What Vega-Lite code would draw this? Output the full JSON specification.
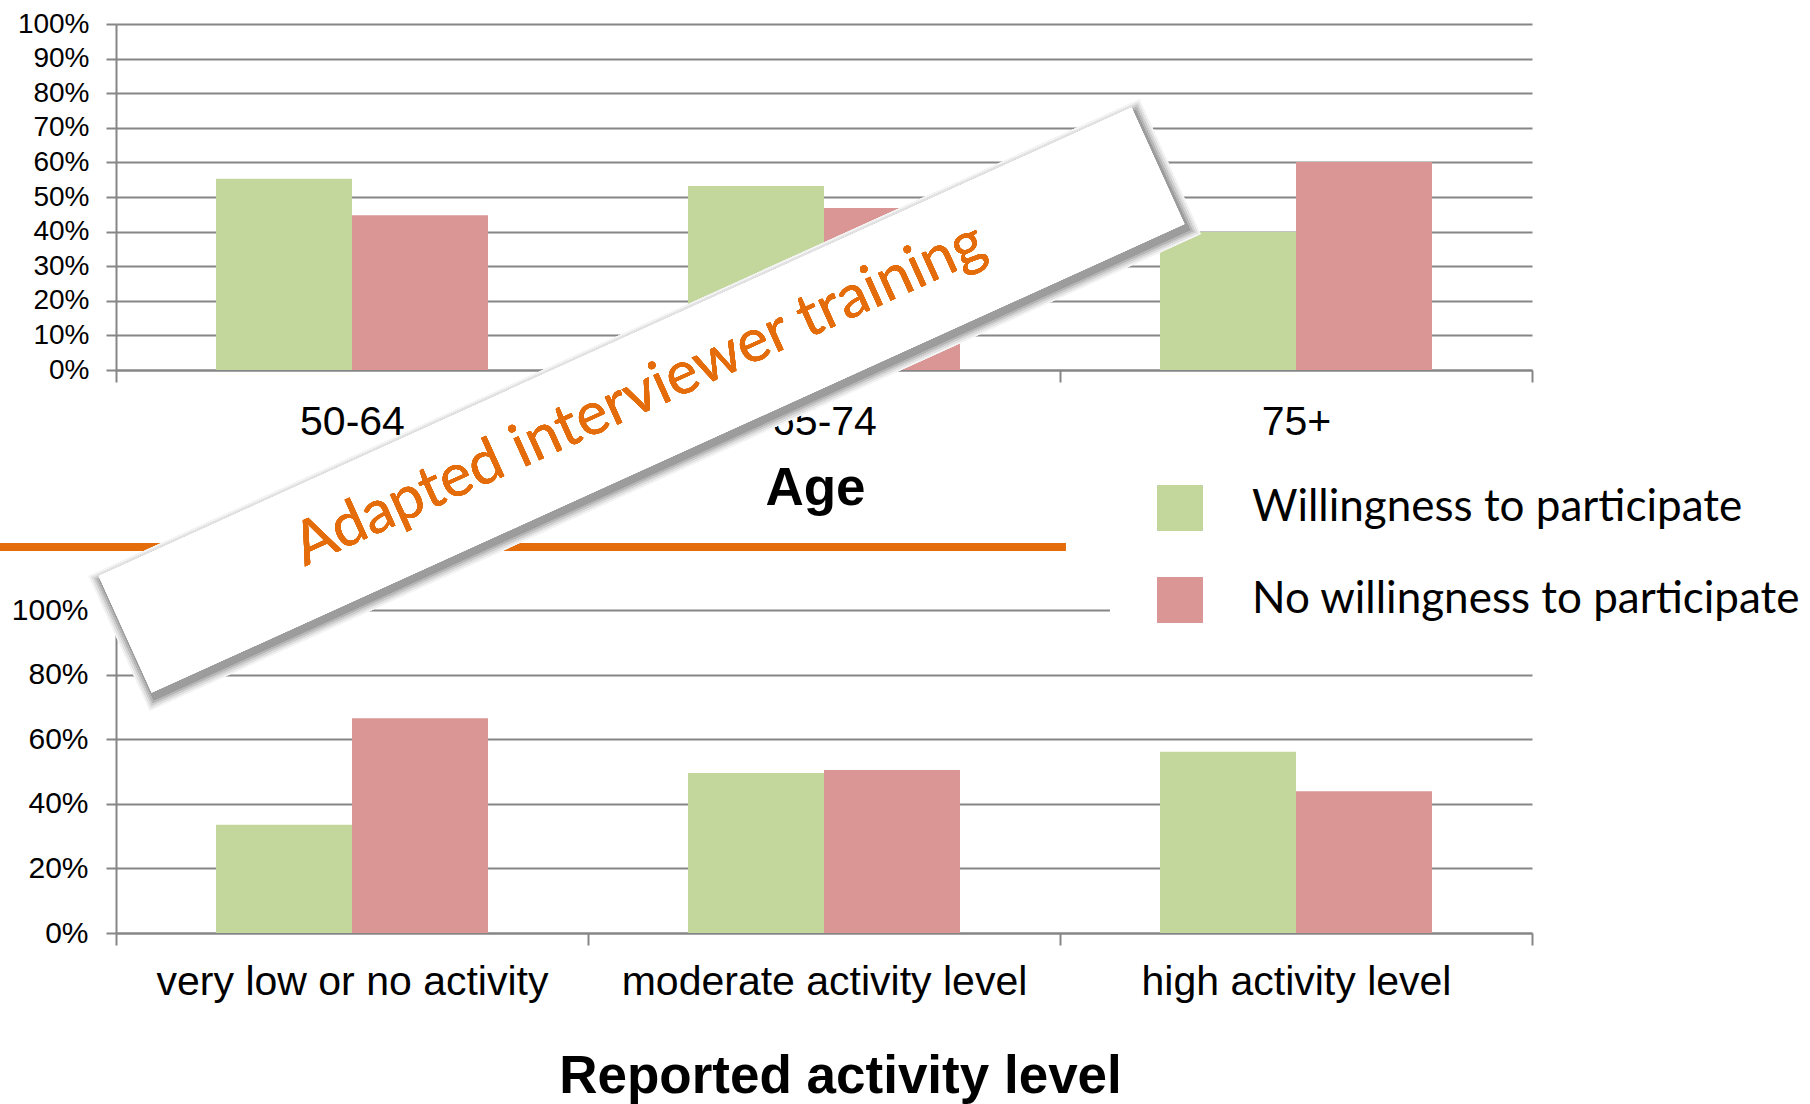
{
  "$schema": "https://vega.github.io/schema/vega-lite/v6.json",
  "autosize": {"type": "none"},
  "padding": {"left": 116, "top": 24, "right": 1694, "bottom": 1080},
  "background": "white",
  "config": {
    "view": {"stroke": null},
    "font": "Liberation Sans",
    "axis": {"labelFont": "Liberation Sans", "titleFont": "Liberation Sans", "labelColor": "black", "titleColor": "black", "labelOverlap": false}
  },
  "bounds": "flush",
  "spacing": 240,
  "datasets": {
    "age": [
      {"age": "50-64", "series": "Willingness to participate", "value": 0.553},
      {"age": "50-64", "series": "No willingness to participate", "value": 0.447},
      {"age": "65-74", "series": "Willingness to participate", "value": 0.532},
      {"age": "65-74", "series": "No willingness to participate", "value": 0.468},
      {"age": "75+", "series": "Willingness to participate", "value": 0.399},
      {"age": "75+", "series": "No willingness to participate", "value": 0.601}
    ],
    "activity": [
      {"activity": "very low or no activity", "series": "Willingness to participate", "value": 0.335},
      {"activity": "very low or no activity", "series": "No willingness to participate", "value": 0.665},
      {"activity": "moderate activity level", "series": "Willingness to participate", "value": 0.495},
      {"activity": "moderate activity level", "series": "No willingness to participate", "value": 0.505},
      {"activity": "high activity level", "series": "Willingness to participate", "value": 0.561},
      {"activity": "high activity level", "series": "No willingness to participate", "value": 0.439}
    ]
  },
  "resolve": {"scale": {"color": "shared"}, "legend": {"color": "shared"}},
  "vconcat": [
    {
      "width": 1416,
      "height": 346,
      "data": {"name": "age"},
      "mark": {"type": "bar"},
      "encoding": {
        "x": {
          "field": "age", "type": "nominal", "sort": ["50-64", "65-74", "75+"],
          "scale": {"paddingInner": 0, "paddingOuter": 0},
          "axis": {
            "title": "Age", "titleFontSize": 53, "titleFontWeight": "bold", "titlePadding": 20, "titleX": 699,
            "labelFontSize": 41, "labelAngle": 0, "labelPadding": 20, "labelLimit": 0,
            "tickSize": 12, "tickBand": "extent", "tickColor": "#868686", "tickWidth": 2,
            "domainColor": "#868686", "domainWidth": 2, "grid": false
          }
        },
        "xOffset": {
          "field": "series", "type": "nominal",
          "sort": ["Willingness to participate", "No willingness to participate"],
          "scale": {"paddingInner": 0, "paddingOuter": 0.735}
        },
        "y": {
          "field": "value", "type": "quantitative",
          "scale": {"domain": [0, 1]},
          "axis": {
            "title": null, "format": ".0%", "values": [0, 0.1, 0.2, 0.3, 0.4, 0.5, 0.6, 0.7, 0.8, 0.9, 1],
            "labelFontSize": 28, "labelPadding": 17, "tickSize": 10,
            "tickColor": "#868686", "tickWidth": 2, "domainColor": "#868686", "domainWidth": 2,
            "grid": true, "gridColor": "#868686", "gridWidth": 2
          }
        },
        "color": {
          "field": "series", "type": "nominal",
          "scale": {"domain": ["Willingness to participate", "No willingness to participate"], "range": ["#C3D69B", "#D99694"]},
          "legend": {
            "orient": "none", "legendX": 1041, "legendY": 461, "title": null,
            "symbolType": "square", "symbolSize": 2116, "symbolStrokeWidth": 0,
            "labelFont": "Lato", "labelFontSize": 44, "labelColor": "black", "labelOffset": 49,
            "rowPadding": 46, "padding": 0, "labelLimit": 1000
          }
        }
      }
    },
    {
      "width": 1416,
      "height": 323,
      "data": {"name": "activity"},
      "layer": [
        {
          "mark": {"type": "bar"},
          "encoding": {
            "x": {
              "field": "activity", "type": "nominal",
              "sort": ["very low or no activity", "moderate activity level", "high activity level"],
              "scale": {"paddingInner": 0, "paddingOuter": 0},
              "axis": {
                "title": "Reported activity level", "titleFontSize": 53, "titleFontWeight": "bold", "titlePadding": 48, "titleX": 724,
                "labelFontSize": 41, "labelAngle": 0, "labelPadding": 17, "labelLimit": 0,
                "tickSize": 12, "tickBand": "extent", "tickColor": "#868686", "tickWidth": 2,
                "domainColor": "#868686", "domainWidth": 2, "grid": false
              }
            },
            "xOffset": {
              "field": "series", "type": "nominal",
              "sort": ["Willingness to participate", "No willingness to participate"],
              "scale": {"paddingInner": 0, "paddingOuter": 0.735}
            },
            "y": {
              "field": "value", "type": "quantitative",
              "scale": {"domain": [0, 1]},
              "axis": {
                "title": null, "format": ".0%", "values": [0, 0.1, 0.2, 0.3, 0.4, 0.5, 0.6, 0.7, 0.8, 0.9, 1],
                "labelFontSize": 30, "labelPadding": 18, "tickSize": 10,
                "tickColor": "#868686", "tickWidth": 2, "domainColor": "#868686", "domainWidth": 2,
                "grid": true, "gridColor": "#868686", "gridWidth": 2
              }
            },
            "color": {
              "field": "series", "type": "nominal",
              "scale": {"domain": ["Willingness to participate", "No willingness to participate"], "range": ["#C3D69B", "#D99694"]},
              "legend": {
                "orient": "none", "legendX": 1041, "legendY": 461, "title": null,
                "symbolType": "square", "symbolSize": 2116, "symbolStrokeWidth": 0,
                "labelFont": "Lato", "labelFontSize": 44, "labelColor": "black", "labelOffset": 49,
                "rowPadding": 46, "padding": 0, "labelLimit": 1000
              }
            }
          }
        },
        {
          "mark": {"type": "rect", "color": "white"},
          "encoding": {
            "x": {"datum": "high activity level", "type": "nominal", "bandPosition": 0.106},
            "x2": {"datum": "high activity level", "bandPosition": 1.05},
            "y": {"datum": 1.05, "type": "quantitative"},
            "y2": {"datum": 0.86}
          }
        },
        {
          "mark": {"type": "rule", "color": "#E46C0A", "strokeWidth": 8, "strokeCap": "butt"},
          "encoding": {
            "x": {"datum": "very low or no activity", "type": "nominal", "bandPosition": -0.2458},
            "x2": {"datum": "high activity level", "bandPosition": 0.0114},
            "y": {"datum": 1.195, "type": "quantitative"}
          }
        },
        {
          "mark": {"type": "point", "shape": "M-1.0176,-0.1305L1.0176,-0.1305L1.0176,0.1305L-1.0176,0.1305Z", "filled": true, "fill": "#f3f3f3", "stroke": null, "strokeWidth": 0, "opacity": 1, "size": 1285956, "angle": 335.6},
          "encoding": {
            "x": {"datum": "very low or no activity", "type": "nominal", "bandPosition": 1.12},
            "y": {"datum": 1.6345, "type": "quantitative"}
          }
        },
        {
          "mark": {"type": "point", "shape": "M-1.0141,-0.127L1.0141,-0.127L1.0141,0.127L-1.0141,0.127Z", "filled": true, "fill": "#e2e2e2", "stroke": null, "strokeWidth": 0, "opacity": 1, "size": 1285956, "angle": 335.6},
          "encoding": {
            "x": {"datum": "very low or no activity", "type": "nominal", "bandPosition": 1.12},
            "y": {"datum": 1.6345, "type": "quantitative"}
          }
        },
        {
          "mark": {"type": "point", "shape": "M-1.0106,-0.1235L1.0106,-0.1235L1.0106,0.1235L-1.0106,0.1235Z", "filled": true, "fill": "#cdcdcd", "stroke": null, "strokeWidth": 0, "opacity": 1, "size": 1285956, "angle": 335.6},
          "encoding": {
            "x": {"datum": "very low or no activity", "type": "nominal", "bandPosition": 1.12},
            "y": {"datum": 1.6345, "type": "quantitative"}
          }
        },
        {
          "mark": {"type": "point", "shape": "M-1.0071,-0.12L1.0071,-0.12L1.0071,0.12L-1.0071,0.12Z", "filled": true, "fill": "#b5b5b5", "stroke": null, "strokeWidth": 0, "opacity": 1, "size": 1285956, "angle": 335.6},
          "encoding": {
            "x": {"datum": "very low or no activity", "type": "nominal", "bandPosition": 1.12},
            "y": {"datum": 1.6345, "type": "quantitative"}
          }
        },
        {
          "mark": {"type": "point", "shape": "M-1.0035,-0.1164L1.0035,-0.1164L1.0035,0.1164L-1.0035,0.1164Z", "filled": true, "fill": "#9c9c9c", "stroke": null, "strokeWidth": 0, "opacity": 1, "size": 1285956, "angle": 335.6},
          "encoding": {
            "x": {"datum": "very low or no activity", "type": "nominal", "bandPosition": 1.12},
            "y": {"datum": 1.6345, "type": "quantitative"}
          }
        },
        {
          "mark": {"type": "point", "shape": "M-1,-0.1129L1,-0.1129L1,0.1129L-1,0.1129Z", "filled": true, "fill": "white", "stroke": null, "strokeWidth": 0, "opacity": 1, "size": 1285956, "angle": 335.6},
          "encoding": {
            "x": {"datum": "very low or no activity", "type": "nominal", "bandPosition": 1.1135},
            "y": {"datum": 1.65, "type": "quantitative"}
          }
        },
        {
          "mark": {"type": "text", "text": "Adapted interviewer training", "font": "Lato", "fontSize": 60, "color": "#E46C0A", "angle": 335.6, "align": "center", "baseline": "alphabetic"},
          "encoding": {
            "x": {"datum": "very low or no activity", "type": "nominal", "bandPosition": 1.125},
            "y": {"datum": 1.615, "type": "quantitative"}
          }
        }
      ]
    }
  ]
}
